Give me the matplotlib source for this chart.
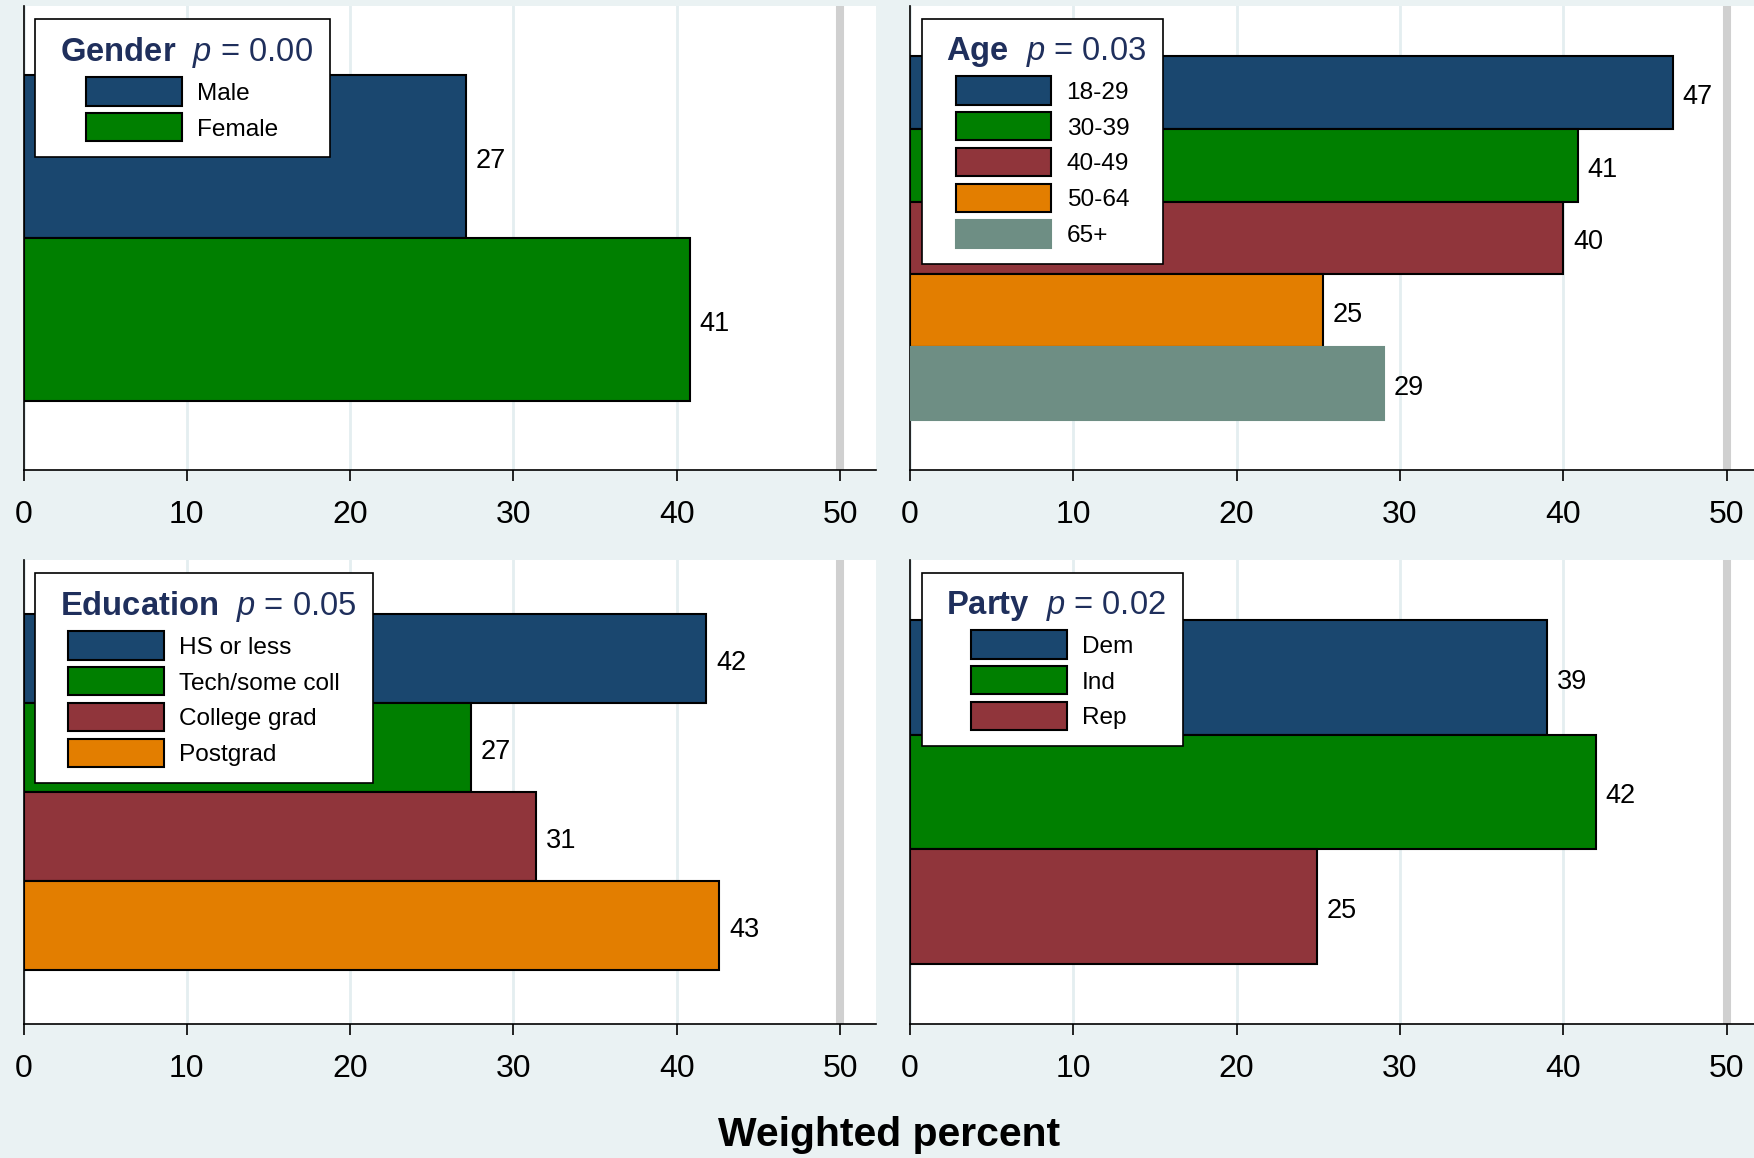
import numpy as np
import matplotlib.pyplot as plt

plt.rcParams['font.family'] = ['Liberation Sans', 'DejaVu Sans']
plt.rcParams['mathtext.fontset'] = 'custom'
plt.rcParams['mathtext.rm'] = 'Liberation Sans'
plt.rcParams['mathtext.it'] = 'Liberation Sans:italic'
plt.rcParams['mathtext.bf'] = 'Liberation Sans:bold'

# data
gender_labels = ["Male", "Female"]
gender_values = [27.1, 40.8]
age_labels = ["18-29", "30-39", "40-49", "50-64", "65+"]
age_values = [46.7, 40.9, 40.0, 25.3, 29.0]
edu_labels = ["HS or less", "Tech/some coll", "College grad", "Postgrad"]
edu_values = [41.8, 27.4, 31.4, 42.6]
party_labels = ["Dem", "Ind", "Rep"]
party_values = [39.0, 42.0, 24.9]

titles = ["Gender", "Age", "Education", "Party"]
pvalues = ["0.00", "0.03", "0.05", "0.02"]

colors = ["#1A476F", "#007F00", "#90353B", "#E37E00", "#6E8E84"]
bg = "#EAF2F3"

# layout (figure fractions) and empty space above/below the bars, in bar units
W, H = 1754, 1158
axw = 852.5 / W
axh = 464 / H
positions = [(23.5 / W, 1 - 470 / H), (910 / W, 1 - 470 / H),
             (23.5 / W, 1 - 1024 / H), (910 / W, 1 - 1024 / H)]
margins = [0.426, 0.69, 0.607, 0.52]

panels = [(gender_labels, gender_values), (age_labels, age_values),
          (edu_labels, edu_values), (party_labels, party_values)]

fig = plt.figure(figsize=(W / 100, H / 100), dpi=100, facecolor=bg)

for i, (labels, values) in enumerate(panels):
    x0, y0 = positions[i]
    ax = fig.add_axes([x0, y0, axw, axh])
    n = len(values)
    y = np.arange(n)
    cols = colors[:n]
    edges = ["black" if c != "#6E8E84" else c for c in cols]
    bars = ax.barh(y, values, height=1.0, color=cols, edgecolor=edges,
                   linewidth=1.5, zorder=3)
    anns = ax.bar_label(bars, labels=[f"{v:.0f}" for v in values], padding=7,
                        fontsize=19.5, color="black")
    for a in anns:
        a.xyann = (7, -3.2)
    m = margins[i]
    ax.set_ylim(n - 0.5 + m, -0.5 - m)
    ax.set_xlim(0, 52.2)
    ax.axvline(50, color="#D0D0D0", lw=5.8, zorder=1)
    ax.set_axisbelow(True)
    ax.xaxis.grid(True, color="#E4EEF0", lw=2)
    ax.set_xticks([0, 10, 20, 30, 40, 50])
    ax.tick_params(axis="x", labelsize=23, length=8, width=1.2, pad=13.5)
    ax.set_yticks([])
    for s in ["top", "right"]:
        ax.spines[s].set_visible(False)
    for s in ["left", "bottom"]:
        ax.spines[s].set_linewidth(1.2)

    title = r" $\mathbf{" + titles[i] + r"}$  $\mathit{p}$ = " + pvalues[i] + " "
    leg = ax.legend(bars.patches, labels, loc="upper left",
                    bbox_to_anchor=(0.0135, 0.972), borderaxespad=0,
                    title=title, title_fontsize=23.6, fontsize=17.6,
                    handlelength=3.9, handleheight=1.39, handletextpad=0.64,
                    labelspacing=0.32, borderpad=0.64, fancybox=False,
                    framealpha=1, edgecolor="black")
    leg.get_frame().set_linewidth(1.2)
    leg.get_title().set_color("#1F2F5C")
    leg.set_zorder(5)

fig.text(889 / W, 1 - 1134.5 / H, "Weighted percent", ha="center", va="center",
         fontsize=29.4, fontweight="bold")

fig.savefig("out.png", dpi=100, facecolor=bg)
